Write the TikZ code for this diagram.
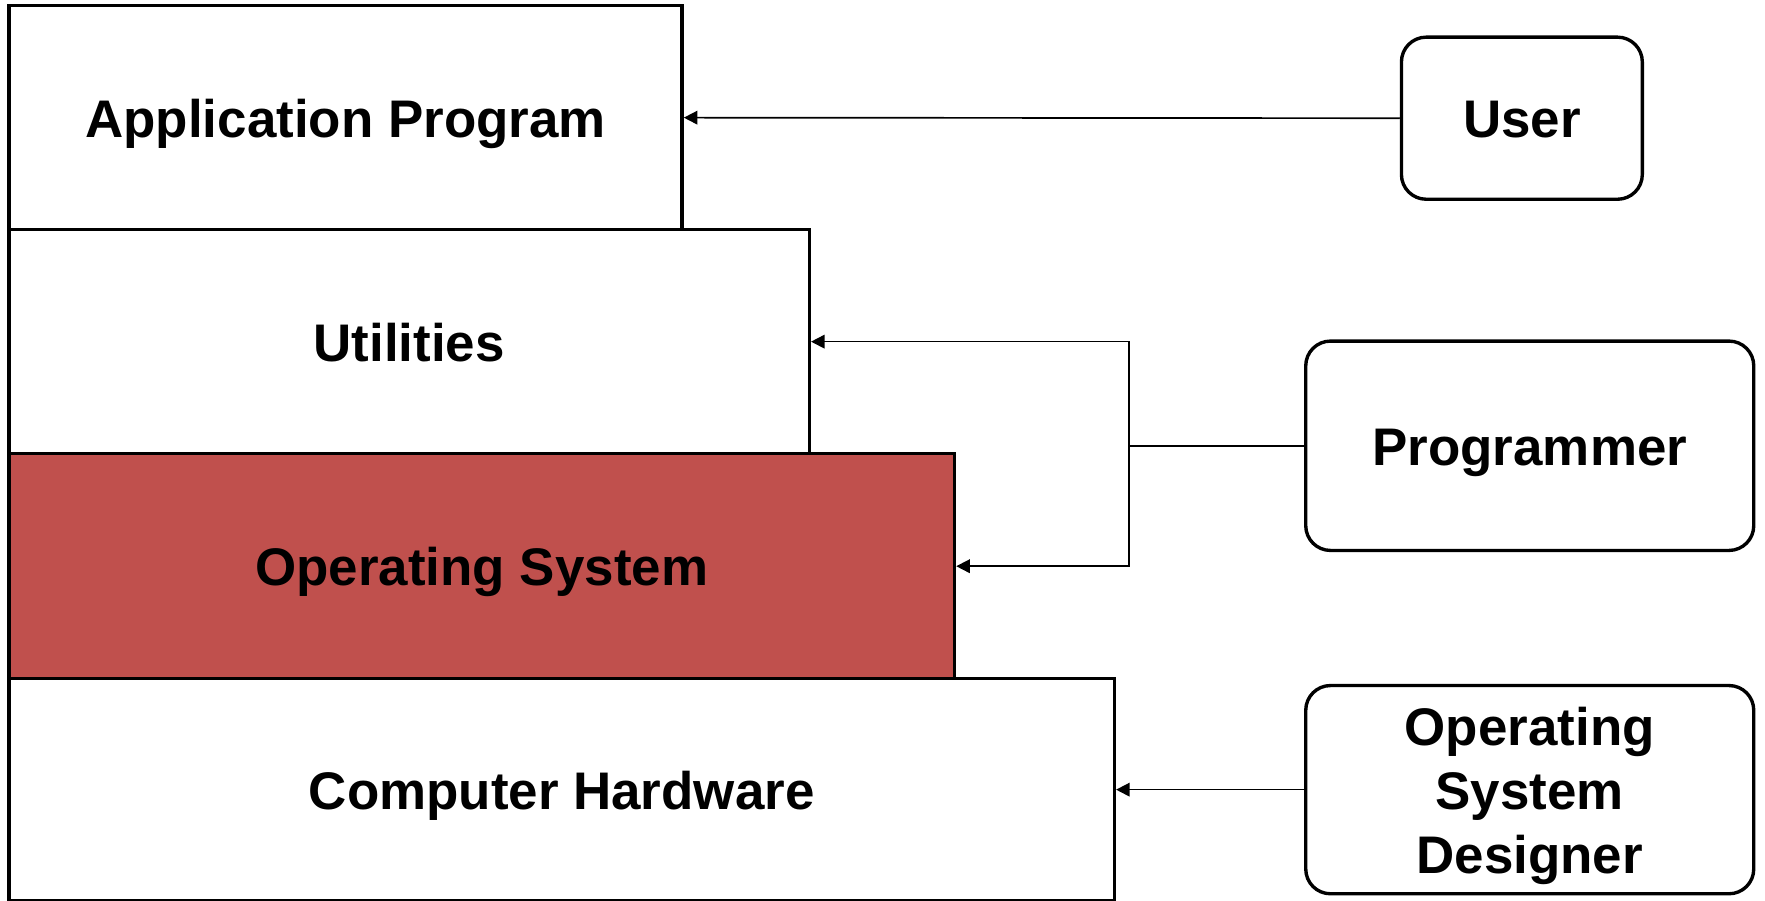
\documentclass[tikz,border=0pt]{standalone}
\usepackage{fontspec}
\setmainfont{Liberation Sans}
\usetikzlibrary{arrows.meta}
\definecolor{osred}{HTML}{C0504D}
\tikzset{
  layer/.style={draw=black, line width=1.5pt, fill=white, inner sep=0pt, rectangle,
    font=\fontsize{23.5}{28.5}\selectfont\bfseries, text height=17.4pt, text depth=0pt},
  actor/.style={draw=black, line width=1.5pt, fill=white, inner sep=0pt, rectangle,
    rounded corners=11pt, align=center,
    font=\fontsize{23.5}{28.5}\selectfont\bfseries, text height=17.4pt, text depth=0pt},
  conn/.style={line width=0.75pt, -{Triangle[length=6pt,width=6pt]}},
  plain/.style={line width=0.75pt}
}
\begin{document}
\begin{tikzpicture}[x=0.5pt, y=-0.5pt]
\useasboundingbox (0,0) rectangle (1568,800);
% stacked layers
\node[layer, minimum width=299pt, minimum height=99.5pt] (app) at (307,104.5) {Application Program};
\node[layer, minimum width=355.5pt, minimum height=99.5pt] (util) at (363.5,303.5) {Utilities};
\node[layer, fill=osred, minimum width=420pt, minimum height=100pt] (os) at (428,503) {Operating System};
\node[layer, minimum width=491pt, minimum height=98.5pt] (hw) at (499,701.5) {Computer Hardware};
% actors
\node[actor, minimum width=107pt, minimum height=72pt] (user) at (1352,105) {User};
\node[actor, minimum width=199pt, minimum height=93pt] (prog) at (1359,396) {Programmer};
\node[actor, minimum width=199pt, minimum height=92.5pt, text height=74.4pt] (osd) at (1359,701.5) {Operating\\System\\Designer};
% connectors
\coordinate (j) at (1003,396);
\draw[conn] (user.west) -- (app.east);
\draw[plain] (prog.west) -- (j);
\draw[conn] (j) |- (util.east);
\draw[conn] (j) |- (os.east);
\draw[conn] (osd.west) -- (hw.east);
\end{tikzpicture}
\end{document}
